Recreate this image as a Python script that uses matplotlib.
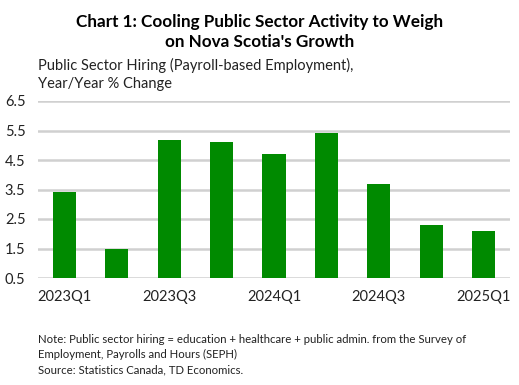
import numpy as np
import matplotlib
matplotlib.use("Agg")
import matplotlib.pyplot as plt

# quarterly public sector hiring, y/y % change
quarters = ["2023Q1", "2023Q2", "2023Q3", "2023Q4", "2024Q1",
            "2024Q2", "2024Q3", "2024Q4", "2025Q1"]
values = [3.41, 1.5, 5.18, 5.11, 4.71, 5.42, 3.69, 2.29, 2.09]
y_ticks = [0.5, 1.5, 2.5, 3.5, 4.5, 5.5, 6.5]

plt.rcParams['font.family'] = ['Lato', 'DejaVu Sans']

fig = plt.figure(figsize=(5.19, 3.85), dpi=100)
W, H = 519, 385
ax = fig.add_axes([38 / W, 1 - 278 / H, (510 - 38) / W, (278 - 101) / H])

x = np.arange(len(quarters))
ax.bar(x, values, width=0.44, color="#008a00", zorder=3)
ax.set_ylim(0.5, 6.5)
ax.set_xlim(-0.5, len(quarters) - 0.5)
ax.set_yticks(y_ticks)
ax.set_yticklabels([f"{v:.1f}" for v in y_ticks], fontsize=10.5, color="#222222")
ax.set_xticks(x[::2])
ax.set_xticklabels(quarters[::2], fontsize=10.5, color="#222222")
ax.tick_params(length=0, pad=9)
ax.yaxis.grid(True, color="#d0d0d0", linewidth=1.8, zorder=0)
for s in ax.spines.values():
    s.set_visible(False)

fig.text(0.5, 1 - 14 / H, "Chart 1: Cooling Public Sector Activity to Weigh\non Nova Scotia's Growth",
         ha="center", va="top", fontsize=12.3, fontweight="bold", linespacing=1.3)
fig.text(38 / W, 1 - 58 / H, "Public Sector Hiring (Payroll-based Employment),\nYear/Year % Change",
         ha="left", va="top", fontsize=10.5, color="#222222", linespacing=1.4)
fig.text(38 / W, 1 - 334 / H,
         "Note: Public sector hiring = education + healthcare + public admin. from the Survey of\n"
         "Employment, Payrolls and Hours (SEPH)\nSource: Statistics Canada, TD Economics.",
         ha="left", va="top", fontsize=8.2, color="#222222", linespacing=1.45)

fig.savefig("out.png", dpi=100)
